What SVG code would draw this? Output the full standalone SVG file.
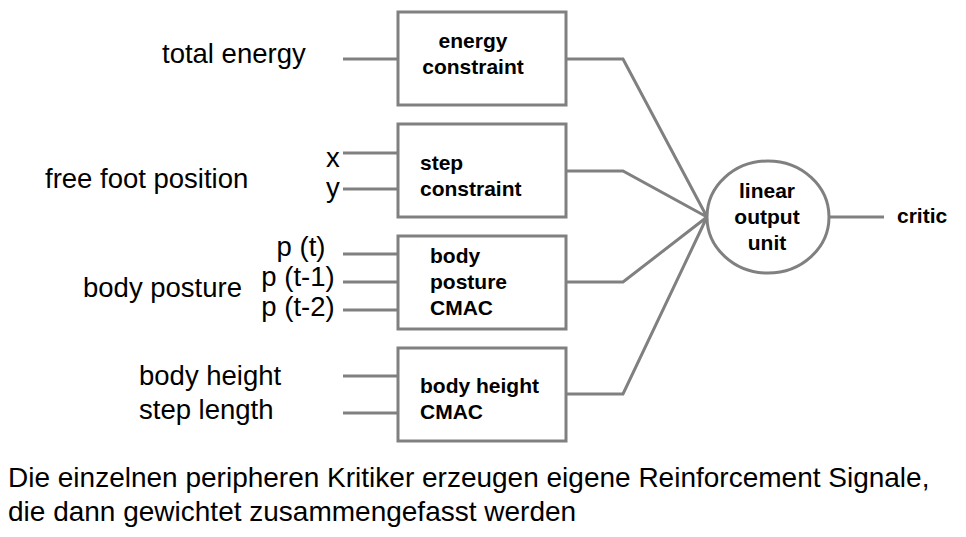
<svg xmlns="http://www.w3.org/2000/svg" width="966" height="537" viewBox="0 0 966 537">
<style>
.box{fill:#fff;stroke:#808080;stroke-width:3}
.ln{fill:none;stroke:#808080;stroke-width:3}
.lbl{font-family:"Liberation Sans",Arial,sans-serif;font-size:27.5px;fill:#000}
.cap{font-family:"Liberation Sans",Arial,sans-serif;font-size:28px;fill:#000}
.b{font-family:"Liberation Sans",Arial,sans-serif;font-size:21px;font-weight:bold;fill:#000}
</style>
<rect width="966" height="537" fill="#fff"/>
<g id="connectors">
<path class="ln" d="M343 59H398M343 153H398M343 189H398M343 254H398M343 282H398M343 310H398M343 376H398M343 413H398"/>
<path class="ln" d="M566 59H623L707 217M566 171H623L707 217M566 282H623L707 217M566 394H623L707 217M829 217H884"/>
</g>
<g id="energy">
<rect class="box" x="398" y="12" width="168" height="93"/>
<text class="b" x="473" y="48" text-anchor="middle">energy</text>
<text class="b" x="473" y="74" text-anchor="middle">constraint</text>
</g>
<g id="step">
<rect class="box" x="398" y="124" width="168" height="93"/>
<text class="b" x="420" y="170">step</text>
<text class="b" x="420" y="196">constraint</text>
</g>
<g id="posture">
<rect class="box" x="398" y="236" width="168" height="93"/>
<text class="b" x="430" y="263">body</text>
<text class="b" x="430" y="289">posture</text>
<text class="b" x="430" y="315">CMAC</text>
</g>
<g id="height">
<rect class="box" x="398" y="348" width="168" height="93"/>
<text class="b" x="420" y="393">body height</text>
<text class="b" x="420" y="419">CMAC</text>
</g>
<g id="linear">
<ellipse class="box" cx="768" cy="217" rx="61" ry="56"/>
<text class="b" x="767" y="198" text-anchor="middle">linear</text>
<text class="b" x="767" y="224" text-anchor="middle">output</text>
<text class="b" x="767" y="250" text-anchor="middle">unit</text>
</g>
<g id="critic">
<text class="b" x="897" y="223">critic</text>
</g>
<g id="labels">
<text class="lbl" x="162" y="63">total energy</text>
<text class="lbl" x="45" y="188">free foot position</text>
<text class="lbl" x="326" y="167">x</text>
<text class="lbl" x="326" y="197">y</text>
<text class="lbl" x="83" y="297">body posture</text>
<text class="lbl" x="301" y="256" text-anchor="middle">p (t)</text>
<text class="lbl" x="298" y="286" text-anchor="middle">p (t-1)</text>
<text class="lbl" x="298" y="316" text-anchor="middle">p (t-2)</text>
<text class="lbl" x="139" y="385">body height</text>
<text class="lbl" x="139" y="419">step length</text>
</g>
<g id="caption">
<text class="cap" x="8" y="487">Die einzelnen peripheren Kritiker erzeugen eigene Reinforcement Signale,</text>
<text class="cap" x="8" y="521">die dann gewichtet zusammengefasst werden</text>
</g>
</svg>
